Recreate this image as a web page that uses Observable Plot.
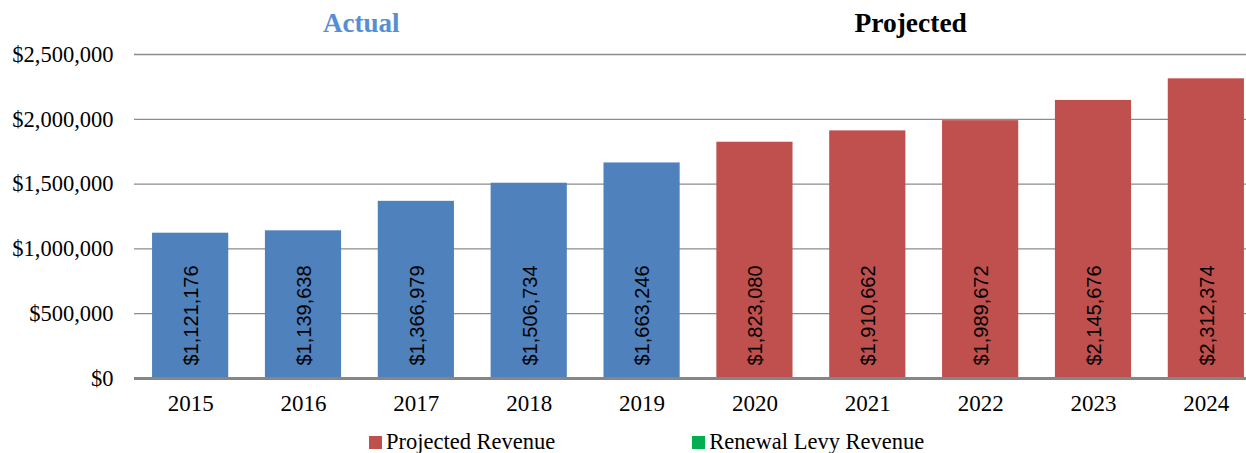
<!DOCTYPE html>
<html>
<head>
<meta charset="utf-8">
<script src="https://cdn.jsdelivr.net/npm/d3@7"></script>
<script src="https://cdn.jsdelivr.net/npm/@observablehq/plot@0.6"></script>
<style>
  body { margin: 0; background: #fff; overflow: hidden; }
  #chart { width: 1246px; }
  .legend { display: flex; height: 28px; align-items: center; font-family: "Liberation Serif", serif; font-size: 22.5px; color: #000; }
  .legend .item { display: flex; align-items: center; }
  .legend .sw { width: 13px; height: 13px; margin-right: 4px; }
</style>
</head>
<body>
<div id="chart"></div>
<script>
const years = ["2015","2016","2017","2018","2019","2020","2021","2022","2023","2024"];
const revenue = [1121176, 1139638, 1366979, 1506734, 1663246, 1823080, 1910662, 1989672, 2145676, 2312374];
const period = ["Actual","Actual","Actual","Actual","Actual","Projected","Projected","Projected","Projected","Projected"];
const yTicks = [0, 500000, 1000000, 1500000, 2000000, 2500000];
const legendItems = [{label: "Projected Revenue", color: "#C0504D"}, {label: "Renewal Levy Revenue", color: "#00B050"}];

const data = years.map((y, i) => ({year: y, value: revenue[i], period: period[i]}));
const money = d3.format("$,.0f");

const plot = Plot.plot({
  width: 1246,
  height: 428,
  marginLeft: 134,
  marginRight: 0,
  marginTop: 54,
  marginBottom: 50,
  style: {fontFamily: "Liberation Serif, serif", background: "#fff", color: "#000"},
  x: {domain: years, range: [134, 1262], round: false, paddingInner: 0.325, paddingOuter: 0.16, label: null},
  y: {domain: [0, 2500000], label: null},
  color: {domain: ["Actual","Projected"], range: ["#4F81BD","#C0504D"]},
  marks: [
    Plot.ruleY(yTicks.filter(d => d > 0), {stroke: "#8c8c8c", strokeWidth: 1.3, strokeOpacity: 1}),
    Plot.barY(data, {x: "year", y: "value", fill: "period"}),
    Plot.ruleY([0], {stroke: "#868686", strokeWidth: 3, strokeOpacity: 1}),
    Plot.axisY({ticks: yTicks, tickFormat: money, tickSize: 0, tickPadding: 21, fontSize: 22.5, label: null, fill: "#000"}),
    Plot.axisX({tickSize: 0, tickPadding: 16, fontSize: 23, label: null, fill: "#000"}),
    Plot.text(data, {x: "year", y: 0, text: d => money(d.value), rotate: -90, textAnchor: "start", lineAnchor: "middle", dy: -13, dx: 1, fontFamily: "Liberation Sans, sans-serif", fontSize: 20, fill: "#000"}),
    Plot.text(["Actual"], {x: ["2017"], frameAnchor: "top", text: d => d, dy: -31, dx: -55, fontWeight: "bold", fontSize: 27, fill: "#558ED5", lineAnchor: "middle"}),
    Plot.text(["Projected"], {x: ["2022"], frameAnchor: "top", text: d => d, dy: -31, dx: -70, fontWeight: "bold", fontSize: 27.5, fill: "#000", lineAnchor: "middle"})
  ]
});

const chart = document.getElementById("chart");
chart.appendChild(plot);

const legend = document.createElement("div");
legend.className = "legend";
legendItems.forEach((it, i) => {
  const item = document.createElement("div");
  item.className = "item";
  item.style.marginLeft = i === 0 ? "369px" : "137px";
  const sw = document.createElement("span");
  sw.className = "sw";
  sw.style.background = it.color;
  const t = document.createElement("span");
  t.textContent = it.label;
  item.appendChild(sw);
  item.appendChild(t);
  legend.appendChild(item);
});
chart.appendChild(legend);
</script>
</body>
</html>
